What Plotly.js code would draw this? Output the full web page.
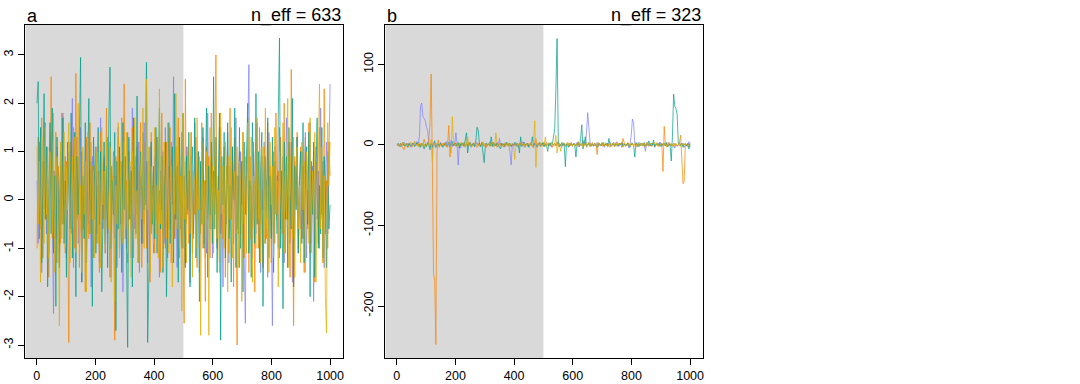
<!DOCTYPE html>
<html>
<head>
<meta charset="utf-8">
<script src="https://cdn.plot.ly/plotly-3.0.1.min.js"></script>
<style>html,body{margin:0;padding:0;background:#fff;}#chart{width:1080px;height:384px;}</style>
</head>
<body>
<div id="chart"></div>
<script>
// ---- data (thinned draws) ----
const panelLabels = ["a", "b"];
const neffLabels = ["n_eff = 633", "n_eff = 323"];
const warmup = 500;
const nIter = 1000;
const xTicks = [0, 200, 400, 600, 800, 1000];
const yTicksA = [-3, -2, -1, 0, 1, 2, 3];
const yTicksB = [-200, -100, 0, 100];
const chainColors = ["#8080FF", "#F98400", "#00A08A", "#E2AD00"];

const aChain1 = [0.4,-0.9,1.2,0.3,-1.5,0.8,-0.2,1.6,-0.7,0.5,-1.1,0.9,1.4,-0.3,-2.35,0.6,-0.8,1.1,0.2,-1.3,0.7,-0.5,1.8,-0.1,0.9,
-1.2,0.3,1.0,-0.6,0.1,2.1,-1.4,0.5,-0.3,1.3,-0.9,0.2,1.5,-1.7,0.4,-0.2,0.8,-1.0,1.2,-0.5,0.6,-1.8,0.9,0.1,-0.4,
1.1,-0.7,0.3,-1.3,1.7,0.2,-0.6,0.9,-1.1,0.4,1.3,-0.2,-1.6,0.7,0.0,1.0,-0.8,0.5,-1.4,1.5,0.2,-0.5,0.8,-1.9,0.6,
0.3,-1.0,1.4,-0.4,0.7,-1.2,1.9,0.1,-0.6,0.9,-0.3,1.2,-1.5,0.5,0.2,-0.9,1.6,-0.1,0.8,-1.3,0.4,1.1,-0.7,0.3,-1.1,
0.9,-0.4,1.3,0.1,-1.6,0.6,-0.2,1.0,-0.9,1.5,0.3,-1.2,0.7,-0.5,1.2,-0.1,2.55,-0.8,0.4,-1.4,0.8,0.0,-0.6,1.4,-1.0,
0.5,-1.3,1.1,-0.3,0.6,-1.7,0.9,0.2,-0.8,1.6,-0.4,0.3,1.0,-1.5,0.7,-0.2,1.3,-0.9,0.4,-1.1,1.8,0.1,-0.6,0.8,-1.2,
0.6,-0.3,1.2,-1.0,0.2,1.5,-0.7,0.4,-1.8,0.9,0.0,-0.5,1.4,-1.3,0.7,-0.2,1.1,-0.9,0.3,1.7,-0.6,0.5,-1.4,1.0,-0.1,
0.8,-1.1,-2.55,0.6,1.3,2.8,-0.8,0.3,-1.2,1.0,0.1,-0.7,1.6,-0.4,0.5,-1.5,0.9,-0.2,1.2,-0.9,0.4,-1.6,1.4,0.0,-0.5,
-2.6,0.7,1.1,-0.3,0.5,-1.0,1.5,-0.6,0.2,0.9,-1.3,0.6,1.7,-0.4,0.1,-0.9,1.2,-1.7,0.4,0.8,-0.2,1.3,-1.1,0.3,-0.6,
1.0,-0.8,0.5,1.4,-1.2,0.2,-0.5,1.6,-0.9,0.7,-2.1,0.3,1.1,-0.4,0.6,-1.0,1.9,-0.3,0.8,-1.4,0.4,1.2,-0.7,0.9,2.4];

const aChain2 = [-1.0,1.3,0.2,-0.6,1.7,-1.2,0.5,0.9,-0.4,1.1,-1.6,0.3,2.55,-0.8,0.6,-0.2,1.4,-1.3,0.7,0.1,-0.9,1.8,-0.5,0.4,-1.1,
0.8,-0.3,-2.95,1.2,-0.7,0.5,1.5,-1.0,2.62,-0.4,0.9,-1.4,0.2,1.0,-0.6,0.3,-1.9,1.3,0.0,-0.8,1.6,-0.2,0.7,-1.2,0.4,
1.1,-0.9,0.6,-1.5,1.4,0.2,-0.4,0.8,-1.1,1.9,-0.7,0.3,1.2,-1.6,0.5,0.0,-2.9,0.9,-0.3,1.3,-1.0,0.6,1.7,-0.5,2.4,
-0.8,0.4,-1.3,1.0,0.2,-0.6,1.5,-1.2,0.7,-0.1,1.1,-0.9,0.5,1.6,-1.4,0.3,-0.5,1.2,-1.0,0.8,0.1,-1.7,1.4,-0.3,0.6,
-1.1,0.9,1.3,-0.4,0.2,-1.5,1.8,-0.7,0.5,-1.0,1.2,0.0,-0.6,1.5,-1.3,0.4,0.9,-0.8,1.1,-0.2,1.7,-1.2,0.3,0.7,-1.6,
-2.55,2.5,-0.5,1.0,-0.9,0.6,1.4,-1.1,0.2,-0.3,1.3,-1.4,0.8,0.1,-0.7,1.6,-1.0,0.4,-2.1,1.1,-0.4,0.9,-1.2,1.8,0.3,
-0.6,1.2,3.0,-0.9,0.5,-1.3,1.5,0.0,-0.8,1.1,-1.6,0.7,0.3,-1.1,1.9,-0.4,0.8,-1.8,1.3,-0.2,-3.0,0.6,1.0,-0.7,0.2,
1.4,-1.2,0.5,-0.3,1.7,-1.5,0.9,0.1,-0.6,1.2,-1.9,0.4,0.8,-1.0,1.5,-0.5,0.2,-1.4,1.1,0.6,-0.8,1.6,-0.2,0.7,-1.3,
0.3,1.0,-0.9,1.8,-0.4,0.6,-1.2,1.3,0.0,-0.7,2.0,-1.1,0.5,-0.3,1.2,-1.6,2.7,-0.5,-2.6,0.9,-0.1,1.4,-1.0,0.4,1.1,
-0.8,0.7,-1.5,1.3,0.2,-0.6,1.6,-1.1,0.5,-0.2,1.0,-1.7,0.8,0.3,-0.9,1.5,-0.4,0.6,-1.3,2.3,-0.7,0.4,-1.0,1.2,0.5];

const aChain3 = [2.0,2.45,-0.8,1.5,-1.3,0.6,2.2,-0.4,1.1,-1.8,0.3,1.6,-0.7,1.9,-1.1,0.5,-2.2,1.3,0.0,-1.4,1.0,-0.5,1.7,-0.9,0.4,
-1.6,1.2,0.2,-0.6,1.8,-1.2,0.7,1.4,-2.0,0.9,-0.3,1.1,2.95,-1.7,0.5,-0.8,1.6,-1.3,0.1,2.1,-0.7,0.8,-2.2,1.3,0.3,
-1.1,0.6,1.5,-0.5,1.0,-1.9,0.2,1.2,-0.9,0.7,-1.4,1.7,2.75,-1.0,0.4,-0.3,1.4,-2.7,0.8,-0.6,1.1,0.0,-1.5,1.6,-0.2,
0.9,-1.2,-3.05,1.3,-0.4,0.6,-1.8,1.7,0.1,-0.7,2.15,-1.3,0.5,1.0,-0.9,1.4,-0.2,0.8,2.85,-2.95,-1.6,0.3,1.2,-0.5,0.7,
-0.8,1.5,-1.1,0.3,1.9,-0.6,0.9,-1.5,0.2,1.2,-2.0,0.6,1.6,-0.9,0.0,1.1,-1.3,2.2,-0.4,0.7,-1.7,1.3,0.1,-1.0,1.8,
0.5,-1.4,0.9,-0.2,1.4,-1.8,0.6,1.1,-0.7,1.7,-1.2,0.3,1.0,-2.1,0.8,-0.5,1.5,-1.0,0.2,1.9,-1.6,0.7,-0.3,1.2,-0.9,
2.55,-0.6,1.3,-1.5,0.4,1.8,-2.9,0.9,-0.1,1.4,-1.2,0.6,1.6,-0.8,0.3,-1.7,1.1,0.0,1.9,-1.4,0.5,-0.7,1.5,-1.0,0.8,
-1.9,1.2,-0.3,0.7,2.0,-1.1,0.4,-1.6,1.6,0.2,-0.9,2.2,-0.5,1.0,-1.3,0.6,1.4,-2.2,0.1,0.9,-0.4,1.7,-1.2,0.5,-0.8,
1.3,-1.5,0.8,0.0,-0.7,1.8,3.35,-1.0,0.6,-2.25,1.2,-0.4,0.9,-1.4,1.5,0.2,-0.6,2.1,-1.8,0.7,-0.2,1.3,-1.1,0.4,1.0,
-0.9,1.6,-1.3,0.5,1.1,-0.5,1.4,-2.0,0.8,-0.3,1.2,-1.6,0.6,1.7,-1.0,0.3,-0.7,1.5,-1.2,0.9,0.2,-1.4,1.0,-0.6,-0.1];

const aChain4 = [1.1,-0.5,0.8,-1.7,1.3,0.2,-0.9,1.5,-0.3,0.6,-1.2,1.0,0.4,-0.7,1.8,-1.5,0.3,0.9,-0.4,-2.6,1.2,-0.8,0.5,1.4,-1.0,
0.7,-0.2,1.6,-1.3,0.1,0.9,-0.6,1.3,-1.1,0.5,2.0,-0.8,0.3,-1.5,1.1,-0.3,0.8,-1.9,1.4,0.0,-0.7,1.2,-0.4,0.6,-1.2,
0.4,1.0,-0.9,0.7,-1.4,1.5,-0.1,0.6,-1.0,1.3,0.2,-0.6,1.1,-1.7,0.5,0.9,-2.1,0.3,-0.5,1.6,-1.2,0.8,0.0,-0.9,1.2,
-0.6,1.4,-1.1,0.4,0.8,-1.6,1.0,-0.3,1.7,-0.8,0.2,-1.3,1.2,0.5,-0.4,1.9,-1.0,0.6,2.5,-0.2,1.1,-1.5,0.7,0.1,-0.9,
1.5,-0.7,0.3,-1.2,2.3,-0.5,0.9,-1.4,1.2,0.0,-0.8,1.6,-1.1,0.4,0.7,-1.8,1.0,-0.3,2.2,-0.6,1.3,-1.0,0.5,-2.3,1.8,
-0.4,0.8,-1.3,1.1,0.2,-0.7,1.4,-1.6,0.6,0.3,-1.0,1.7,-0.2,0.9,-2.8,1.2,-0.5,0.4,-1.2,1.0,0.0,-2.8,1.5,-0.6,0.7,
-1.1,0.5,1.3,-0.8,0.2,-1.5,1.8,-0.3,0.7,-1.0,1.2,0.4,-1.9,0.9,-0.4,1.5,-1.2,0.1,0.6,-0.7,1.1,-1.4,0.8,0.3,-2.1,
1.4,-0.5,0.9,-1.1,1.6,0.0,-0.8,1.3,-1.7,0.5,0.2,-1.0,1.7,-0.4,0.8,-1.3,1.1,0.6,-0.9,1.9,-0.6,0.3,-1.5,1.2,-0.1,
0.7,-1.2,1.5,-0.3,0.4,-1.8,1.0,0.2,-0.7,1.6,-1.1,0.6,-0.4,2.1,-1.4,0.9,0.1,-0.8,1.3,-1.6,0.5,1.1,-0.6,0.3,-1.3,
1.2,-0.2,0.8,-1.5,1.0,0.4,-0.9,1.7,-1.1,0.6,-0.3,1.4,-1.7,0.2,0.9,2.4,-0.6,1.1,-1.3,0.5,-2.0,-2.75,1.6,0.3,1.2];

const bChain1 = [0,1,-2,2,-1,0,3,-2,1,-1,2,0,-3,1,2,-1,0,4,2,10,48,52,35,33,30,
22,18,2,-3,1,-2,3,0,-4,2,1,-1,3,-2,0,2,-1,4,-3,1,0,6,-2,1,-1,
15,3,-25,2,-4,1,0,3,-2,1,-1,2,0,-3,2,1,-2,0,3,-1,2,-2,1,0,-1,
2,-3,1,0,4,-1,2,-2,1,0,3,-2,8,-1,2,0,-3,1,2,-1,0,-10,-25,2,-1,
1,3,-2,0,2,-1,1,4,-3,0,2,-2,1,0,3,-1,-4,2,1,-2,0,3,-1,2,0,
-2,1,3,0,-1,2,-3,1,0,2,-1,4,-2,1,0,-3,2,1,-1,0,3,-2,1,2,-1,
0,2,-1,3,-2,1,0,-1,2,4,0,15,40,25,3,-2,1,0,2,-1,3,-2,1,0,-1,
2,-3,1,0,2,-1,3,-2,0,1,-1,2,4,-2,1,0,-3,2,1,-1,0,2,-4,1,12,
32,28,2,-1,0,3,-2,1,2,-1,0,-8,1,3,-2,0,1,-1,2,-3,1,0,2,-1,3,
-2,1,0,-1,2,-2,3,1,-1,0,2,-4,1,-2,0,3,-1,1,2,-3,0,1,-2,4,-3];

const bChain2 = [1,-1,0,2,-2,-5,-6,1,0,2,-1,3,0,-2,1,4,-1,0,2,-3,1,0,-1,7,2,
-2,1,3,28,88,-18,-160,-168,-248,-8,6,-3,1,0,2,-1,3,-2,1,24,-15,2,0,-1,3,
-2,1,0,2,-1,3,0,-2,1,2,-1,0,3,-2,1,-1,2,0,-3,1,2,-1,0,3,-2,
1,0,-1,2,-2,1,3,0,-1,2,-3,1,0,2,-1,1,-2,3,0,-1,2,1,-2,0,1,
-1,2,0,-3,1,2,-1,0,3,-2,1,0,-1,2,1,-2,0,3,8,-1,2,0,-2,1,-1,
3,-2,0,1,-1,2,0,-3,1,2,-1,0,3,-2,1,-1,2,0,-2,1,0,2,-1,3,-2,
1,0,-1,2,4,-2,1,0,6,-1,2,-3,1,0,2,-1,3,-2,0,1,-12,2,-1,0,3,
-2,1,0,-1,2,0,-3,1,2,-1,0,3,-2,1,0,2,-1,8,1,-2,0,3,-1,1,0,
2,-1,0,1,-3,2,0,-1,1,2,-2,0,3,-1,1,0,-2,2,1,-1,0,3,-2,1,0,
2,-33,23,1,-2,0,3,-1,1,0,-2,2,1,-1,0,3,12,-20,-48,-45,2,-1,1,0,2];

const bChain3 = [-1,2,0,-2,1,3,-1,0,2,-3,1,0,-1,2,1,-2,0,3,-1,1,-3,2,0,-5,1,
-2,3,0,-6,2,-3,1,5,-2,0,1,-1,2,0,-3,1,2,-1,0,3,-2,1,4,-1,0,
2,-1,3,-4,1,0,2,-2,8,15,-10,1,3,-1,0,2,-2,5,22,18,1,-2,3,-12,-22,
-3,2,0,1,-1,10,-2,3,0,-1,2,1,-3,-5,2,0,1,-2,3,0,-1,2,-2,1,0,
3,-1,2,0,-10,10,-2,1,3,-1,0,2,-3,1,0,10,-1,2,0,-3,1,2,-1,0,3,
-2,1,0,-8,2,-1,3,1,12,20,70,132,5,-2,0,3,-1,2,-27,1,0,-3,2,1,-1,
2,0,-15,1,3,-2,8,25,-5,2,10,-1,0,3,-2,1,0,-1,2,0,-3,1,2,-1,0,
3,-1,0,2,-2,8,1,-1,0,3,-2,1,0,-1,2,0,3,-2,1,0,-1,2,0,-3,1,
2,-1,-15,3,0,-2,1,2,-1,0,3,-2,1,0,5,-1,2,0,6,-2,1,0,-1,3,-2,
1,0,2,-1,3,-2,0,1,-20,10,63,48,45,38,2,-1,0,2,-3,1,0,-1,2,-5,1];

const bChain4 = [2,-1,1,0,-2,3,1,-1,2,0,-3,1,2,-2,0,4,-1,1,-2,3,0,-1,2,1,-3,
1,0,2,-2,7,-20,3,-1,0,2,-3,1,0,2,-1,3,0,-2,1,2,-1,-10,35,2,-1,
0,2,-2,1,3,-1,0,2,-3,1,10,-1,2,0,-2,1,3,-1,0,2,-2,1,0,4,-1,
2,-3,1,0,2,-1,3,0,-2,15,1,-1,2,0,-3,1,2,-1,0,3,-2,1,0,2,-1,
-18,2,0,1,-2,3,-1,0,2,-3,1,0,2,-1,3,-2,1,30,-28,2,0,-1,3,-2,1,
0,10,-2,1,3,-1,0,2,-2,1,12,-10,0,2,-8,1,3,-1,0,2,-2,1,0,3,-1,
2,0,-2,1,3,-1,0,2,-3,1,0,2,-1,3,-2,1,0,-1,2,0,-2,3,1,-1,0,
2,-1,3,0,-2,1,2,-1,0,3,-2,1,0,2,-1,1,0,-3,2,1,-1,0,2,-2,3,
0,-1,2,1,-2,0,3,-1,1,0,2,-3,1,0,-1,2,1,-2,0,3,-1,2,0,-2,1,
0,2,-1,3,-2,1,0,-1,2,0,-3,1,2,-1,0,3,-2,1,0,2,-1,1,-2,0,2];

const panelA = [aChain1, aChain2, aChain3, aChain4];
const panelB = [bChain1, bChain2, bChain3, bChain4];

// ---- build ----
function iters(n) { const x = []; for (let i = 0; i < n; i++) x.push(1 + i * (nIter - 1) / (n - 1)); return x; }

const traces = [];
[panelA, panelB].forEach((chains, p) => {
  chains.forEach((vals, c) => {
    traces.push({
      type: "scatter", mode: "lines",
      x: iters(vals.length), y: vals,
      xaxis: p === 0 ? "x" : "x2", yaxis: p === 0 ? "y" : "y2",
      line: { color: chainColors[c], width: 1 },
      opacity: 0.72, hoverinfo: "skip", showlegend: false
    });
  });
});

const W = 1080, H = 384;
const domA = [25.3 / W, 342.7 / W], domB = [385.3 / W, 702.7 / W];
const domY = [1 - 358.3 / H, 1 - 25 / H];
const xr = [-39, 1043];
const tickFont = { family: "Liberation Sans, Arial, sans-serif", size: 12.5, color: "#000" };

function xAxis(dom, anchor) {
  return { domain: dom, anchor: anchor, range: xr, tickvals: xTicks, ticktext: xTicks.map(String),
    showline: true, mirror: true, linecolor: "#000", linewidth: 1, ticks: "outside", ticklen: 6,
    tickcolor: "#000", showgrid: false, zeroline: false, tickfont: tickFont };
}
function yAxis(range, ticks, anchor) {
  return { domain: domY, anchor: anchor, range: range, tickvals: ticks, ticktext: ticks.map(String),
    tickangle: -90, showline: true, mirror: true, linecolor: "#000", linewidth: 1, ticks: "outside", ticklen: 6,
    tickcolor: "#000", showgrid: false, zeroline: false, tickfont: tickFont };
}

const titleFont = { family: "Liberation Sans, Arial, sans-serif", size: 18, color: "#000" };
const annotations = [];
[domA, domB].forEach((d, p) => {
  annotations.push({ xref: "paper", yref: "paper", x: d[0], y: domY[1], xanchor: "left", yanchor: "bottom",
    text: panelLabels[p], showarrow: false, font: titleFont, yshift: -3 });
  annotations.push({ xref: "paper", yref: "paper", x: d[1], y: domY[1], xanchor: "right", yanchor: "bottom",
    text: neffLabels[p], showarrow: false, font: titleFont, yshift: -3 });
});

const shapes = [
  { type: "rect", xref: "x", yref: "y domain", x0: xr[0], x1: warmup, y0: 0, y1: 1, fillcolor: "#D9D9D9", line: { width: 0 }, layer: "below" },
  { type: "rect", xref: "x2", yref: "y2 domain", x0: xr[0], x1: warmup, y0: 0, y1: 1, fillcolor: "#D9D9D9", line: { width: 0 }, layer: "below" }
];

const layout = {
  width: W, height: H, margin: { l: 0, r: 0, t: 0, b: 0 },
  paper_bgcolor: "#fff", plot_bgcolor: "#fff", showlegend: false,
  xaxis: xAxis(domA, "y"), yaxis: yAxis([-3.275, 3.62], yTicksA, "x"),
  xaxis2: xAxis(domB, "y2"), yaxis2: yAxis([-264.9, 148.8], yTicksB, "x2"),
  annotations: annotations, shapes: shapes
};

Plotly.newPlot("chart", traces, layout, { staticPlot: true, displayModeBar: false });
</script>
</body>
</html>
